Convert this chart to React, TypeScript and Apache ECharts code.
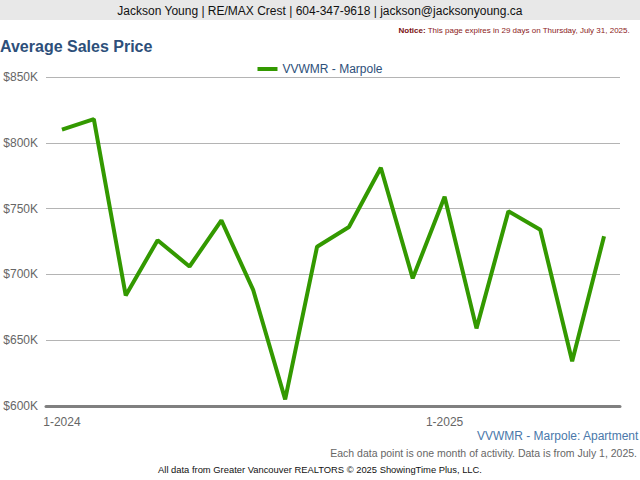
import React, { useEffect, useRef } from "react";
import * as echarts from "echarts";

const months: string[] = [
  "1-2024", "2-2024", "3-2024", "4-2024", "5-2024", "6-2024",
  "7-2024", "8-2024", "9-2024", "10-2024", "11-2024", "12-2024",
  "1-2025", "2-2025", "3-2025", "4-2025", "5-2025", "6-2025",
];
const avgPrice: number[] = [
  810000, 818000, 684000, 726000, 706000, 741000,
  688000, 605000, 721000, 736000, 781000, 697000,
  759000, 659000, 748000, 734000, 634000, 729000,
];
const shownLabels: string[] = ["1-2024", "1-2025"];
const seriesName = "VVWMR - Marpole";

const FONT = "Arial, 'Liberation Sans', sans-serif";

export default function App() {
  const ref = useRef<HTMLDivElement>(null);
  useEffect(() => {
    if (!ref.current) return;
    const chart = echarts.init(ref.current, undefined, { renderer: "svg" });
    const showIdx = (i: number) => shownLabels.includes(months[i]);
    chart.setOption({
      animation: false,
      backgroundColor: "#ffffff",
      textStyle: { fontFamily: FONT },
      legend: {
        top: 58,
        left: "center",
        icon: "rect",
        itemWidth: 20,
        itemHeight: 4,
        itemGap: 4,
        textStyle: { color: "#2d4f7a", fontSize: 12, fontFamily: FONT },
        data: [seriesName],
      },
      grid: { left: 46, right: 20, top: 77, bottom: 74 },
      xAxis: {
        type: "category",
        data: months,
        boundaryGap: true,
        axisLine: { lineStyle: { color: "#808080", width: 3 } },
        axisTick: {
          alignWithLabel: true,
          interval: (i: number) => showIdx(i),
          length: 5,
          lineStyle: { color: "#666", width: 2 },
        },
        axisLabel: {
          interval: (i: number) => showIdx(i),
          color: "#666",
          fontSize: 12,
          fontFamily: FONT,
          margin: 10,
        },
      },
      yAxis: {
        type: "value",
        min: 600000,
        max: 850000,
        interval: 50000,
        axisLine: { show: false },
        axisTick: { show: false },
        splitLine: { lineStyle: { color: "#b4b4b4", width: 1 } },
        axisLabel: {
          formatter: (v: number) => `$${v / 1000}K`,
          color: "#666",
          fontSize: 12,
          fontFamily: FONT,
          margin: 8,
        },
      },
      series: [
        {
          name: seriesName,
          type: "line",
          data: avgPrice,
          symbol: "none",
          lineStyle: { color: "#339900", width: 4 },
          itemStyle: { color: "#339900" },
        },
      ],
      graphic: [
        { type: "rect", left: 0, top: 0, shape: { width: 640, height: 20 }, style: { fill: "#e8e8e8" }, z: 0 },
        {
          type: "text", left: "center", top: 5,
          style: { text: "Jackson Young | RE/MAX Crest | 604-347-9618 | jackson@jacksonyoung.ca", fill: "#111", font: `12px ${FONT}` },
        },
        {
          type: "text", right: 10, top: 26,
          style: {
            text: "{b|Notice:} This page expires in 29 days on Thursday, July 31, 2025.",
            fill: "#8b1a1a",
            font: `8px ${FONT}`,
            rich: { b: { fontWeight: "bold", fill: "#7a1010", fontSize: 8, fontFamily: FONT } },
          },
        },
        {
          type: "text", left: 0, top: 38,
          style: { text: "Average Sales Price", fill: "#2d4f7a", font: `bold 16px ${FONT}` },
        },
        {
          type: "text", right: 1, top: 430,
          style: { text: "VVWMR - Marpole: Apartment", fill: "#4a78aa", font: `12px ${FONT}` },
        },
        {
          type: "text", right: 3, top: 447,
          style: { text: "Each data point is one month of activity. Data is from July 1, 2025.", fill: "#666", font: `10.5px ${FONT}` },
        },
        {
          type: "text", left: "center", top: 465,
          style: { text: "All data from Greater Vancouver REALTORS © 2025 ShowingTime Plus, LLC.", fill: "#111", font: `9.4px ${FONT}` },
        },
      ],
    });
    return () => chart.dispose();
  }, []);
  return <div ref={ref} style={{ width: 640, height: 480, position: "absolute", left: 0, top: 0 }} />;
}
